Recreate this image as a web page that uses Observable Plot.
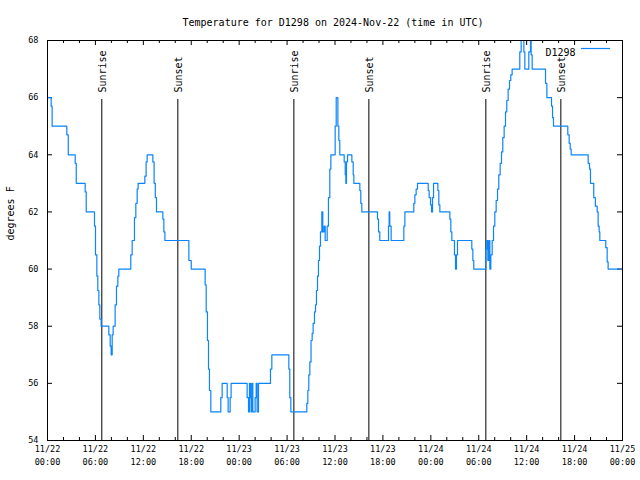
<!DOCTYPE html>
<html><head><meta charset="utf-8">
<script src="https://cdn.jsdelivr.net/npm/d3@7"></script>
<script src="https://cdn.jsdelivr.net/npm/@observablehq/plot@0.6"></script>
<style>body{margin:0;background:#fff}</style>
</head><body><div id="chart"></div>
<script>
// Hours since 2024-11-22 00:00 UTC, and temperature (degrees F) from that time on
const hours = [0,0.46,0.58,2.42,2.6,3.47,3.6,4.72,4.85,5.885,6.01,6.18,6.30,6.43,6.55,6.72,7.68,7.85,7.97,8.10,8.22,8.47,8.64,8.81,8.93,
  10.43,10.6,10.89,11.06,11.23,11.35,12.19,12.35,12.48,13.19,13.35,13.5,13.65,14.44,14.57,14.7,17.7,18.0,19.74,19.87,20.03,20.16,20.28,20.45,
  21.7,21.87,22.5,22.62,22.87,22.99,25.0,25.17,25.29,25.42,25.5,25.58,25.71,26.0,26.13,26.25,26.42,27.92,28.09,30.22,30.34,30.47,
  32.47,32.6,32.72,32.85,33.0,33.14,33.26,33.43,33.56,33.68,33.81,33.93,34.06,34.18,34.35,34.47,34.64,34.77,35.02,35.18,35.35,35.48,
  36.02,36.15,36.36,36.48,36.6,37.15,37.28,37.36,37.44,37.57,38.11,38.28,38.36,39.11,39.23,39.36,41.32,41.45,41.61,42.7,42.78,42.86,43.03,
  44.62,44.75,45.87,46.0,46.16,46.33,47.67,47.79,47.96,48.09,48.21,48.34,48.88,49.0,49.13,50.38,50.5,50.63,50.96,51.09,51.21,51.34,
  53.13,53.26,53.38,54.89,55.01,55.14,55.26,55.39,55.51,55.68,55.85,56.01,56.18,56.35,56.51,56.68,56.85,57.01,57.18,57.35,57.51,57.68,57.85,58.01,58.18,
  59.14,59.31,59.65,59.77,60.27,60.48,60.56,60.69,62.36,62.53,63.11,63.24,63.36,65.15,65.32,65.45,65.57,67.7,67.87,67.99,68.4,68.6,68.83,68.95,69.08,69.16,
  69.91,70.08,70.2,71.83];
const temps = [66,65.7,65,64.7,64,63.7,63,62.7,62,61.5,60.5,59.75,59.25,58.75,58.25,58,57.7,57.3,57,57.7,58,58.75,59.4,59.75,60,
  60.5,61,61.8,62.3,62.8,63,63.25,63.75,64,63.75,63,62.5,62,61.75,61.3,61,60.3,60,59.45,58.5,57.5,56.5,55.75,55,
  55.5,56,55.5,55,55.5,56,55.5,55,56,55.5,55,56,55,55.5,56,55,56,56.5,57,56.5,55.5,55,
  55.3,55.75,56.3,56.75,57.5,57.75,58.1,58.5,58.75,59.25,59.75,60.3,60.8,61.3,62,61.3,61.5,61,61.5,62.5,63.5,64,
  65,66,65,64.5,64,63.75,63.3,63,63.75,64,63.75,63.3,63,62.75,62.3,62,61.75,61.3,61,61.5,62,61.5,61,
  61.5,62,62.3,62.6,62.8,63,62.75,62.5,62.25,62,62.5,63,62.75,62.25,62,61.75,61.3,61,60.5,60,60.5,61,
  60.7,60.3,60,60.7,61,60.3,61,60,60.5,61,61.5,62,62.4,62.8,63.3,63.7,64.1,64.6,65,65.5,65.9,66.3,66.6,66.8,67,
  67.6,68,67.6,67,67.6,68,67.5,67,66.5,66,65.7,65.3,65,64.7,64.4,64.2,64,63.7,63.5,63,62.5,62.2,62,61.5,61.3,61,
  60.75,60.25,60,60];

const sunHours = [6.80, 16.32, 30.85, 40.24, 54.89, 64.28];
const sunLabels = ["Sunrise", "Sunset", "Sunrise", "Sunset", "Sunrise", "Sunset"];

const tickHours = [0, 6, 12, 18, 24, 30, 36, 42, 48, 54, 60, 66, 72];
const tickDates = ["11/22","11/22","11/22","11/22","11/23","11/23","11/23","11/23","11/24","11/24","11/24","11/24","11/25"];
const tickTimes = ["00:00","06:00","12:00","18:00","00:00","06:00","12:00","18:00","00:00","06:00","12:00","18:00","00:00"];
const yTicks = [54, 56, 58, 60, 62, 64, 66, 68];
const minorHours = d3.range(0, 73, 2).filter(h => !tickHours.includes(h));

const seriesName = "D1298";
const titleText = "Temperature for D1298 on 2024-Nov-22 (time in UTC)";
const yLabel = "degrees F";
const lineColor = "#0a84ff";

const series = hours.map((h, i) => ({h, t: temps[i]}));
const sun = sunHours.map((h, i) => ({h, label: sunLabels[i]}));

const font = "'DejaVu Sans Mono', 'Liberation Mono', monospace";

const chart = Plot.plot({
  width: 640, height: 480,
  marginLeft: 47, marginRight: 18, marginTop: 40, marginBottom: 40,
  style: {fontFamily: font, fontSize: "8.5px", background: "white", color: "black"},
  x: {domain: [0, 72]},
  y: {domain: [54, 68]},
  marks: [
    // tick marks (inward, gnuplot style)
    Plot.ruleX(tickHours, {insetTop: 395, stroke: "black"}),
    Plot.ruleX(tickHours, {insetBottom: 395, stroke: "black"}),
    Plot.ruleX(minorHours, {insetTop: 397, stroke: "black"}),
    Plot.ruleX(minorHours, {insetBottom: 397, stroke: "black"}),
    Plot.ruleY(yTicks, {insetRight: 570, stroke: "black"}),
    Plot.ruleY(yTicks, {insetLeft: 570, stroke: "black"}),
    // tick labels
    Plot.axisX(tickHours, {tickSize: 0, tickPadding: 5, tickFormat: d => tickDates[tickHours.indexOf(d)], label: null}),
    Plot.axisX(tickHours, {tickSize: 0, tickPadding: 18, tickFormat: d => tickTimes[tickHours.indexOf(d)], label: null}),
    Plot.axisY(yTicks, {tickSize: 0, tickPadding: 9, tickFormat: d => String(d), label: null}),
    // sunrise / sunset
    Plot.ruleX(sun, {x: "h", insetTop: 59, stroke: "black"}),
    Plot.text(sun, {x: "h", text: "label", frameAnchor: "top", dy: 52, dx: 1, rotate: -90,
      textAnchor: "start", lineAnchor: "middle", fontSize: 10}),
    // data
    Plot.line(series, {x: "h", y: "t", curve: "step-after", stroke: lineColor, strokeWidth: 1.2, clip: true}),
    Plot.frame({stroke: "black"}),
    // texts
    Plot.text([titleText], {frameAnchor: "top", dy: -22, dx: -2, fontSize: 10}),
    Plot.text([yLabel], {frameAnchor: "left", dx: -37, rotate: -90, fontSize: 10}),
    Plot.text([seriesName], {frameAnchor: "top-right", dx: -47, dy: 8, textAnchor: "end", fontSize: 10})
  ]
});
// legend line sample
d3.select(chart).append("line")
  .attr("x1", 581).attr("x2", 610).attr("y1", 48.5).attr("y2", 48.5)
  .attr("stroke", lineColor).attr("stroke-width", 1.2);
document.getElementById("chart").appendChild(chart);
</script>
</body></html>
